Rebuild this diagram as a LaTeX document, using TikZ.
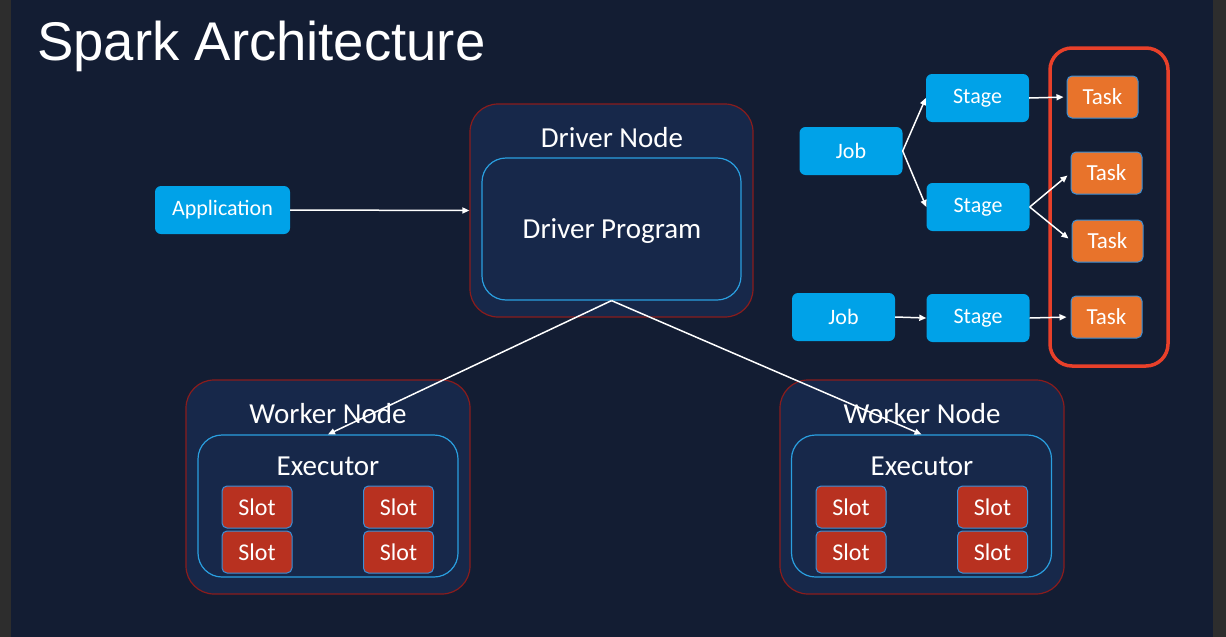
\documentclass[tikz,border=0pt]{standalone}
\usepackage{fontspec}
\setmainfont{Carlito}
\newfontfamily\titlefont{Liberation Sans}
\usetikzlibrary{arrows.meta}
\definecolor{bgnavy}{HTML}{131D33}
\definecolor{strip}{HTML}{2D2D2D}
\definecolor{boxfill}{HTML}{17284A}
\definecolor{darkred}{HTML}{8A1C1C}
\definecolor{lineblue}{HTML}{2A9FE0}
\definecolor{cyanfill}{HTML}{00A2E8}
\definecolor{taskfill}{HTML}{E8732B}
\definecolor{slotfill}{HTML}{B83120}
\definecolor{smallborder}{HTML}{3A8FD6}
\definecolor{hilite}{HTML}{E8402A}
\tikzset{
  outerbox/.style={draw=darkred, line width=1.2pt, fill=boxfill, rounded corners=28pt, inner sep=0pt, minimum width=283pt, minimum height=213pt},
  innerbox/.style={draw=lineblue, line width=1.2pt, fill=boxfill, rounded corners=24pt, inner sep=0pt, minimum width=259pt, minimum height=142pt},
  biglabel/.style={text=white, font=\fontsize{29}{32}\selectfont, inner sep=0pt},
  bluebox/.style={fill=cyanfill, rounded corners=6pt, text=white, font=\fontsize{22}{24}\selectfont, inner sep=0pt, minimum width=103pt, minimum height=48pt},
  taskbox/.style={fill=taskfill, draw=smallborder, line width=1pt, rounded corners=5pt, text=white, font=\fontsize{23}{25}\selectfont, inner sep=0pt, minimum width=71pt, minimum height=42pt},
  slotbox/.style={fill=slotfill, draw=smallborder, line width=1pt, rounded corners=5pt, text=white, font=\fontsize{24}{26}\selectfont, inner sep=0pt, minimum width=70pt, minimum height=42pt},
  conn/.style={draw=white, line width=1.5pt, -{Triangle[length=7pt,width=6pt]}}
}
\begin{document}
\begin{tikzpicture}[x=1pt,y=-1pt]
\useasboundingbox (0,0) rectangle (1226,637);
\fill[strip] (0,0) rectangle (1226,637);
\fill[bgnavy] (11,0) rectangle (1213,637);

\node[anchor=base west, text=white, font=\titlefont\fontsize{54.5}{58}\selectfont, inner sep=0pt] (title) at (37,60) {Spark Architecture};

% Application
\node[bluebox, minimum width=135pt] (app) at (222.5,210) {Application};

% Driver node
\node[outerbox] (drivernode) at (611.5,210.5) {};
\node[innerbox] (driverprog) at (611.5,229) {};
\node[biglabel] (drivernodelbl) at (612,138) {Driver Node};
\node[biglabel] (driverproglbl) at (612,231) {Driver Program};

% Worker left
\node[outerbox, minimum width=284pt, minimum height=214pt] (workerA) at (328,487) {};
\node[innerbox, minimum width=260pt] (execA) at (328,506) {};
\node[biglabel] (workerAlbl) at (328,414) {Worker Node};
\node[biglabel] (execAlbl) at (328,466) {Executor};
\node[slotbox] (sA1) at (257,507) {Slot};
\node[slotbox] (sA2) at (398.5,507) {Slot};
\node[slotbox] (sA3) at (257,552) {Slot};
\node[slotbox] (sA4) at (398.5,552) {Slot};

% Worker right
\node[outerbox, minimum width=284pt, minimum height=214pt] (workerB) at (922,487) {};
\node[innerbox, minimum width=260pt] (execB) at (921.5,506) {};
\node[biglabel] (workerBlbl) at (922,414) {Worker Node};
\node[biglabel] (execBlbl) at (922,466) {Executor};
\node[slotbox] (sB1) at (851,507) {Slot};
\node[slotbox] (sB2) at (992.5,507) {Slot};
\node[slotbox] (sB3) at (851,552) {Slot};
\node[slotbox] (sB4) at (992.5,552) {Slot};

% Jobs / stages / tasks
\node[draw=hilite, line width=3.5pt, rounded corners=22pt, minimum width=118pt, minimum height=318pt, inner sep=0pt] (taskgroup) at (1109,207) {};
\node[bluebox] (job1) at (851,151) {Job};
\node[bluebox] (stage1) at (977.5,98) {Stage};
\node[bluebox] (stage2) at (978,207) {Stage};
\node[bluebox] (job2) at (843.5,317) {Job};
\node[bluebox] (stage3) at (978,318) {Stage};
\node[taskbox] (task1) at (1102.5,97) {Task};
\node[taskbox] (task2) at (1106.5,173) {Task};
\node[taskbox] (task3) at (1107.5,241) {Task};
\node[taskbox] (task4) at (1106.5,317) {Task};

% Connectors
\draw[conn] (app.east) -- (drivernode.west);
\draw[conn] (driverprog.south) -- (execA.north);
\draw[conn] (driverprog.south) -- (execB.north);
\draw[conn] (job1.east) -- (stage1.west);
\draw[conn] (job1.east) -- (stage2.west);
\draw[conn, shorten >=3pt] (stage1.east) -- (task1.west);
\draw[conn, shorten >=4pt] (stage2.east) -- (task2.west);
\draw[conn, shorten >=4pt] (stage2.east) -- (task3.west);
\draw[conn] (job2.east) -- (stage3.west);
\draw[conn, shorten >=4pt] (stage3.east) -- (task4.west);
\end{tikzpicture}
\end{document}
